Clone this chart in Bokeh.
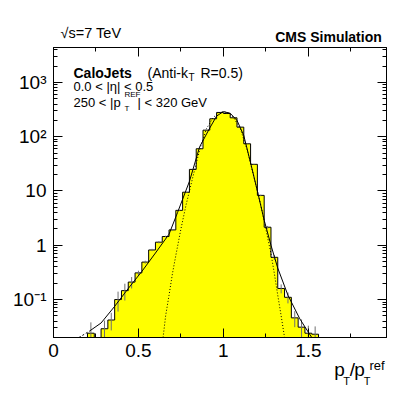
import math
from bokeh.plotting import figure
from bokeh.models import Range1d, LogAxis, LinearAxis, FixedTicker, CustomJSTickFormatter, Label
from bokeh.embed import file_html
from bokeh.resources import INLINE

# ---------------- data ----------------
bin_left = [0.20, 0.24, 0.28, 0.32, 0.36, 0.40, 0.44, 0.48, 0.52, 0.56,
            0.60, 0.64, 0.68, 0.72, 0.76, 0.80, 0.84, 0.88, 0.92, 0.96,
            1.00, 1.04, 1.08, 1.12, 1.16, 1.20, 1.24, 1.28, 1.32, 1.36,
            1.40, 1.44, 1.48, 1.52]
bin_width = 0.04
counts = [0.024, 0.0, 0.029, 0.042, 0.10, 0.146, 0.21, 0.31, 0.49, 0.82,
          1.14, 1.45, 1.92, 4.4, 9.5, 25, 60, 132, 214, 280,
          268, 223, 150, 74, 31, 8.3, 2.15, 0.60, 0.16, 0.11,
          0.046, 0.031, 0.024, 0.023]
errors = [0.014, 0.0, 0.012, 0.015, 0.04, 0.05, 0.05, 0.03, 0.03, 0.04,
          0.05, 0.05, 0.06, 0.1, 0.2, 0.4, 0.7, 1.0, 1.3, 1.5,
          1.5, 1.3, 1.1, 0.8, 0.5, 0.25, 0.12, 0.06, 0.03, 0.025,
          0.015, 0.012, 0.009, 0.009]

# full fit (solid)
fit_x = [0.21, 0.28, 0.36, 0.44, 0.52, 0.60, 0.68, 0.73, 0.80, 0.86,
         0.92, 0.96, 1.00, 1.04, 1.08, 1.12, 1.16, 1.20, 1.24, 1.28,
         1.32, 1.38, 1.45, 1.52]
fit_y = [0.026, 0.037, 0.075, 0.16, 0.33, 0.72, 1.6, 4.0, 15, 65,
         145, 240, 290, 270, 200, 105, 33, 10, 2.9, 1.0,
         0.38, 0.12, 0.044, 0.02]
# extension of the fit (dashed) at the low end
ext_x = [0.15, 0.21]
ext_y = [0.020, 0.026]
# gaussian core (dotted)
core_x = [0.645, 0.66, 0.68, 0.70, 0.72, 0.75, 0.78, 0.82, 0.86, 0.90,
          0.94, 0.97, 1.00, 1.03, 1.06, 1.10, 1.14, 1.18, 1.22, 1.25,
          1.28, 1.30, 1.32, 1.34, 1.36]
core_y = [0.02, 0.05, 0.12, 0.30, 0.65, 2.0, 5.5, 18, 57, 140,
          225, 275, 290, 275, 225, 140, 57, 18, 5.5, 2.0,
          0.7, 0.30, 0.12, 0.05, 0.02]

x_ticks = [0, 0.5, 1, 1.5]
x_minor = [0.25, 0.75, 1.25, 1.75]
y_ticks = [0.1, 1, 10, 100, 1000]
y_labels = {"-1": "10\u207b\u00b9", "0": "1", "1": "10", "2": "10\u00b2", "3": "10\u00b3"}

X0, X1 = 0.0, 1.96
Y0, Y1 = 0.02, 4400.0

FONT = "Liberation Sans"

# frame in page pixels
FL, FR, FT, FB = 53.0, 386.0, 47.0, 337.0
W, H = 399, 389

p = figure(width=W, height=H, x_range=Range1d(X0, X1), y_range=Range1d(Y0, Y1),
           y_axis_type="log", output_backend="svg", toolbar_location=None,
           min_border_left=int(FL), min_border_right=int(W - FR), min_border_top=int(FT),
           min_border_bottom=int(H - FB))
p.grid.visible = False
p.outline_line_color = "black"
p.outline_line_width = 1
p.background_fill_color = "white"
p.border_fill_color = "white"

def px2x(px):
    return X0 + (px - FL) / (FR - FL) * (X1 - X0)

# histogram: one filled step polygon plus its outline
floor = 1e-4
rights = [l + bin_width for l in bin_left]
tops = [c if c > 0 else floor for c in counts]
sx, sy = [bin_left[0]], [floor]
for l, r, t in zip(bin_left, rights, tops):
    sx += [l, r]
    sy += [t, t]
sx.append(rights[-1]); sy.append(floor)
p.patch(sx, sy, fill_color="#ffff00", line_color=None)
p.line(sx, sy, line_color="black", line_width=1)

# error bars
cx, lo, hi = [], [], []
for l, c, e in zip(bin_left, counts, errors):
    if c > 0:
        cx.append(l + bin_width / 2)
        lo.append(max(c - e, floor))
        hi.append(c + e)
p.segment(x0=cx, y0=lo, x1=cx, y1=hi, line_color="#707070", line_width=1)

# fits
p.line(core_x, core_y, line_color="black", line_width=1, line_dash="1 2")
p.line(ext_x, ext_y, line_color="black", line_width=1, line_dash="2 2")
p.line(fit_x, fit_y, line_color="black", line_width=1)

# axes
def style_axis(ax, labels=True):
    ax.axis_line_color = "black"
    ax.major_tick_line_color = "black"
    ax.minor_tick_line_color = "black"
    ax.major_tick_in = 9
    ax.major_tick_out = 0
    ax.minor_tick_in = 4
    ax.minor_tick_out = 0
    ax.major_label_text_font = FONT
    ax.major_label_text_font_size = "19px"
    ax.major_label_text_color = "black"
    if not labels:
        ax.major_label_text_font_size = "0px"
        ax.major_label_standoff = 0

xt = FixedTicker(ticks=x_ticks, minor_ticks=x_minor)
y_minor = [m * 10.0 ** d for d in range(-2, 4) for m in range(2, 10)]
yt = FixedTicker(ticks=y_ticks, minor_ticks=y_minor)

xa = p.xaxis[0]
xa.ticker = xt
xa.formatter = CustomJSTickFormatter(code="return tick.toString();")
style_axis(xa)
xa.major_label_standoff = 6

ya = p.yaxis[0]
ya.ticker = yt
ya.formatter = CustomJSTickFormatter(args=dict(m=y_labels),
                                     code="const e = Math.round(Math.log10(tick)); return m[String(e)] ?? '';")
style_axis(ya)
ya.major_label_standoff = 7

ra = LogAxis(ticker=yt, formatter=CustomJSTickFormatter(code="return '';"))
style_axis(ra, labels=False)
p.add_layout(ra, "right")
ta = LinearAxis(ticker=xt, formatter=CustomJSTickFormatter(code="return '';"))
style_axis(ta, labels=False)
p.add_layout(ta, "above")

# text rows outside the frame: axes that carry only labels
def text_axis(side, centers_px, labels, size, standoff, bold=False):
    ax = LinearAxis(ticker=FixedTicker(ticks=[px2x(c) for c in centers_px], minor_ticks=[]),
                    formatter=CustomJSTickFormatter(args=dict(m=labels), code="return m[index] ?? '';"))
    ax.axis_line_color = None
    ax.major_tick_line_color = None
    ax.minor_tick_line_color = None
    ax.major_tick_in = 0
    ax.major_tick_out = 0
    ax.minor_tick_in = 0
    ax.minor_tick_out = 0
    ax.major_label_standoff = standoff
    ax.major_label_text_font = FONT
    ax.major_label_text_font_size = f"{size}px"
    ax.major_label_text_font_style = "bold" if bold else "normal"
    ax.major_label_text_color = "black"
    p.add_layout(ax, side)
    return ax

text_axis("above", [328], ["CMS Simulation"], 14, 3, bold=True)
text_axis("above", [90.5], ["\u221as=7 TeV"], 14.5, -15)
# x title  p_T / p_T^ref
text_axis("below", [339, 352, 359], ["p", "/", "p"], 19, -1)
text_axis("below", [346, 366.5], ["T", "T"], 11, -8)
text_axis("below", [376.5], ["ref"], 13, -32)

# text inside the frame placed by page pixel position
def txt(px, py, text, size, bold=False, align="left"):
    ly = math.log10(Y1) - (py - FT) / (FB - FT) * (math.log10(Y1) - math.log10(Y0))
    p.add_layout(Label(x=px2x(px), y=10 ** ly, text=text, text_font=FONT,
                       text_font_size=f"{size}px", text_font_style="bold" if bold else "normal",
                       text_align=align, text_baseline="alphabetic", text_color="black"))

txt(73, 72, "CaloJets", 14, bold=True)
txt(147, 72, "(Anti-k", 14)
txt(188, 77, "T", 10)
txt(200, 72, "R=0.5)", 14)
txt(73, 86, "0.0 < |\u03b7| < 0.5", 13)
txt(73, 102, "250 < |p", 13)
txt(124, 94, "REF", 8)
txt(124, 108, "T", 8)
txt(137, 102, "| < 320 GeV", 13)

open("out.html", "w").write(file_html(p, INLINE))
